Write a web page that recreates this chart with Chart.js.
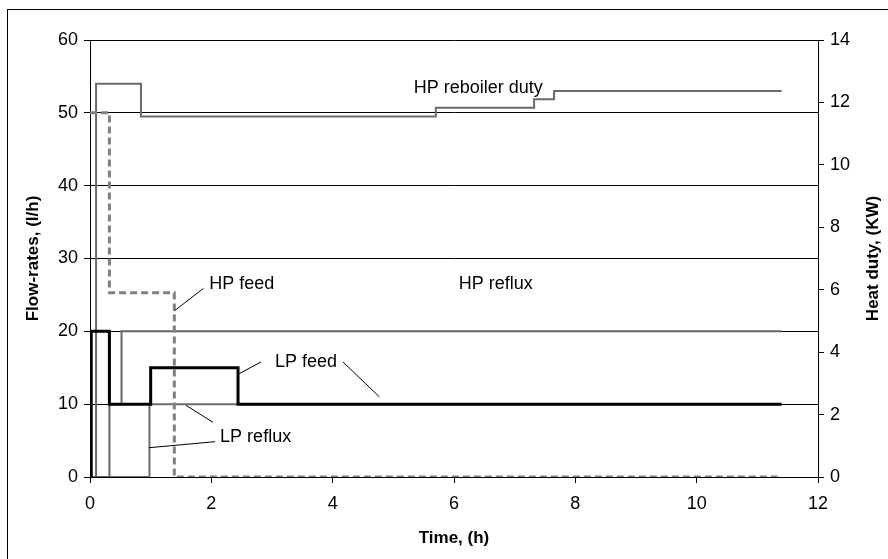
<!DOCTYPE html>
<html>
<head>
<meta charset="utf-8">
<script src="https://cdn.jsdelivr.net/npm/chart.js@4.4.1/dist/chart.umd.min.js"></script>
<style>
  html, body { margin: 0; padding: 0; background: #fff; }
  #wrap { width: 888px; height: 559px; }
</style>
</head>
<body>
<div id="wrap"><canvas id="chart" width="888" height="559"></canvas></div>
<script>
// step data, time in hours
const reboilerTime = [0, 0.1, 0.84, 5.7, 7.32, 7.65, 11.4];
const reboilerDuty = [0, 12.6, 11.55, 11.83, 12.1, 12.37, 12.37];   // KW

const hpFeedTime = [0, 0.32, 1.39, 11.4];
const hpFeed     = [50, 25.3, 0, 0];

const hpRefluxTime = [0, 0.32, 0.52, 11.4];
const hpReflux     = [0, 10, 20, 20];

const lpFeedTime = [0, 0.02, 0.32, 1.0, 2.44, 11.4];
const lpFeed     = [0, 20, 10, 15, 10, 10];

const lpRefluxTime = [0, 0.98, 11.4];
const lpReflux     = [0, 10, 10];

const timeTicks = [0, 2, 4, 6, 8, 10, 12];

// in-chart labels (data coordinates, left axis)
const noteText = ['HP reboiler duty', 'HP feed', 'HP reflux', 'LP feed', 'LP reflux'];
const noteX = [6.4, 2.5, 6.69, 3.56, 2.73];
const noteY = [53.4, 26.5, 26.5, 15.8, 5.5];

// leader lines
const leadX1 = [1.87, 2.82, 4.17, 2.06, 2.03];
const leadY1 = [25.9, 15.8, 15.8, 4.85, 7.5];
const leadX2 = [1.39, 2.44, 4.77, 0.97, 1.58];
const leadY2 = [22.8, 14.1, 11.0, 4.02, 9.85];

const pts = (xs, ys) => xs.map((x, i) => ({ x: x, y: ys[i] }));

const FONT = 'Liberation Sans, Arial, sans-serif';

// white background, frame, axis titles, annotation text
const decor = {
    id: 'decor',
    beforeDraw(chart) {
        const c = chart.ctx;
        c.save();
        c.fillStyle = '#fff';
        c.fillRect(0, 0, chart.width, chart.height);
        c.strokeStyle = '#000';
        c.lineWidth = 1;
        c.strokeRect(7.5, 9.5, chart.width + 20, chart.height + 20);
        c.restore();
    },
    afterDatasetsDraw(chart) {
        const c = chart.ctx;
        const xs = chart.scales.x, ys = chart.scales.y;
        const area = chart.chartArea;
        c.save();
        // leaders
        c.strokeStyle = '#000';
        c.lineWidth = 1;
        for (let i = 0; i < leadX1.length; i++) {
            c.beginPath();
            c.moveTo(xs.getPixelForValue(leadX1[i]), ys.getPixelForValue(leadY1[i]));
            c.lineTo(xs.getPixelForValue(leadX2[i]), ys.getPixelForValue(leadY2[i]));
            c.stroke();
        }
        // labels
        c.fillStyle = '#000';
        c.font = '18px ' + FONT;
        c.textAlign = 'center';
        c.textBaseline = 'middle';
        noteText.forEach((t, i) => {
            c.fillText(t, xs.getPixelForValue(noteX[i]), ys.getPixelForValue(noteY[i]));
        });
        // axis titles
        const midY = (area.top + area.bottom) / 2;
        c.font = 'bold 17px ' + FONT;
        c.save();
        c.translate(33, midY);
        c.rotate(-Math.PI / 2);
        c.fillText('Flow-rates, (l/h)', 0, 0);
        c.restore();
        c.save();
        c.translate(873, midY);
        c.rotate(-Math.PI / 2);
        c.fillText('Heat duty, (KW)', 0, 0);
        c.restore();
        c.fillText('Time, (h)', (area.left + area.right) / 2, 538);
        c.restore();
    }
};

const ctx = document.getElementById('chart').getContext('2d');
new Chart(ctx, {
    type: 'line',
    data: {
        datasets: [
            { label: 'LP feed', data: pts(lpFeedTime, lpFeed), borderColor: '#000', borderWidth: 3, yAxisID: 'y', order: 1 },
            { label: 'HP reflux', data: pts(hpRefluxTime, hpReflux), borderColor: '#666', borderWidth: 2, yAxisID: 'y', order: 3 },
            { label: 'LP reflux', data: pts(lpRefluxTime, lpReflux), borderColor: '#6e6e6e', borderWidth: 2, yAxisID: 'y', order: 4 },
            { label: 'HP feed', data: pts(hpFeedTime, hpFeed), borderColor: '#808080', borderWidth: 3, borderDash: [7, 4], yAxisID: 'y', order: 2 },
            { label: 'HP reboiler duty', data: pts(reboilerTime, reboilerDuty), borderColor: '#6a6a6a', borderWidth: 2, yAxisID: 'y2', order: 5 }
        ]
    },
    options: {
        responsive: false,
        animation: false,
        events: [],
        layout: { padding: { top: 40, left: 0, right: 0, bottom: 0 } },
        // value holds until the next time stamp
        datasets: { line: { stepped: 'before', pointRadius: 0, fill: false, borderCapStyle: 'butt' } },
        plugins: { legend: { display: false }, tooltip: { enabled: false } },
        scales: {
            x: {
                type: 'linear', min: 0, max: 12,
                afterBuildTicks: s => { s.ticks = timeTicks.map(v => ({ value: v })); },
                afterFit: s => { s.height = 82; },
                grid: { drawOnChartArea: false, color: '#000', tickLength: 6 },
                border: { color: '#000', width: 1 },
                ticks: { color: '#000', font: { family: FONT, size: 18 }, padding: 10, maxRotation: 0 }
            },
            y: {
                position: 'left', min: 0, max: 60,
                ticks: { stepSize: 10, color: '#000', font: { family: FONT, size: 18 }, padding: 6 },
                afterFit: s => { s.width = 90; },
                grid: { color: '#000', lineWidth: 1, tickLength: 6 },
                border: { color: '#000', width: 1 }
            },
            y2: {
                position: 'right', min: 0, max: 14,
                ticks: { stepSize: 2, color: '#000', font: { family: FONT, size: 18 }, padding: 6 },
                afterFit: s => { s.width = 70; },
                grid: { drawOnChartArea: false, color: '#000', tickLength: 6 },
                border: { color: '#000', width: 1 }
            }
        }
    },
    plugins: [decor]
});
</script>
</body>
</html>
